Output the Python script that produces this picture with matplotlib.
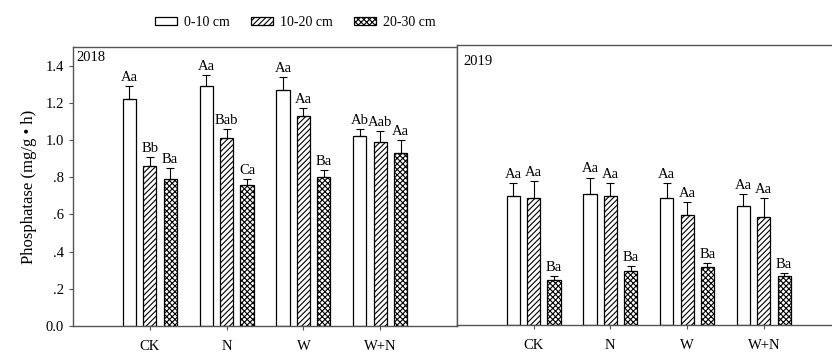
import matplotlib
matplotlib.use("Agg")
import matplotlib.pyplot as plt
import numpy as np
from matplotlib.patches import Patch

plt.rcParams['font.family'] = ['Liberation Serif', 'DejaVu Serif']
plt.rcParams['hatch.linewidth'] = 0.8

treatments = ["CK", "N", "W", "W+N"]
depths = ["0-10 cm", "10-20 cm", "20-30 cm"]
ytick_vals = [0.0, 0.2, 0.4, 0.6, 0.8, 1.0, 1.2, 1.4]
ytick_labels = ["0.0", ".2", ".4", ".6", ".8", "1.0", "1.2", "1.4"]

# 2018 values per depth (rows) and treatment (columns)
mean_2018 = [[1.22, 1.29, 1.27, 1.02],
             [0.86, 1.01, 1.13, 0.99],
             [0.79, 0.76, 0.80, 0.93]]
err_2018 = [[0.07, 0.06, 0.07, 0.04],
            [0.05, 0.05, 0.04, 0.06],
            [0.06, 0.03, 0.04, 0.07]]
lab_2018 = [["Aa", "Aa", "Aa", "Ab"],
            ["Bb", "Bab", "Aa", "Aab"],
            ["Ba", "Ca", "Ba", "Aa"]]

mean_2019 = [[0.69, 0.70, 0.68, 0.64],
             [0.68, 0.69, 0.59, 0.58],
             [0.24, 0.29, 0.31, 0.26]]
err_2019 = [[0.07, 0.09, 0.08, 0.06],
            [0.09, 0.07, 0.07, 0.10],
            [0.02, 0.025, 0.02, 0.02]]
lab_2019 = [["Aa", "Aa", "Aa", "Aa"],
            ["Aa", "Aa", "Aa", "Aa"],
            ["Ba", "Ba", "Ba", "Ba"]]

hatches = ["", "//////", "xxxxxx"]
spine_col = "#555555"

fig = plt.figure(figsize=(8.32, 3.56), dpi=100)
ax1 = fig.add_axes([73/832, 30/356, 384/832, 279/356])
ax2 = fig.add_axes([457/832, 31/356, 375/832, 280/356])

x = np.arange(1, len(treatments) + 1)
offs = [-0.265, 0.0, 0.265]
w = 0.172

def draw(ax, means, errs, labs):
    for i in range(3):
        m = np.array(means[i]); e = np.array(errs[i])
        xs = x + offs[i]
        ax.bar(xs, m, width=w, facecolor="white", edgecolor="black",
               linewidth=0.9, hatch=hatches[i], zorder=2)
        ax.errorbar(xs, m, yerr=[np.zeros_like(e), e], fmt="none",
                    ecolor="black", elinewidth=0.8, capsize=3, capthick=0.8, zorder=3)
        for xi, mi, ei, li in zip(xs, m, e, labs[i]):
            ax.annotate(li, (xi, mi + ei), xytext=(0, 1.5), textcoords="offset points",
                        ha="center", va="bottom", fontsize=10.5)
    ax.set_ylim(0, 1.5)
    ax.set_xticks(x)
    ax.set_xticklabels(treatments, fontsize=10.5)
    ax.tick_params(axis="x", length=3, width=0.8, pad=7, color=spine_col)
    for s in ax.spines.values():
        s.set_color(spine_col)
        s.set_linewidth(1.0)

draw(ax1, mean_2018, err_2018, lab_2018)
draw(ax2, mean_2019, err_2019, lab_2019)

ax1.set_xlim(0, 5)
ax1.set_yticks(ytick_vals)
ax1.set_yticklabels(ytick_labels, fontsize=10.5)
ax1.tick_params(axis="y", length=3, width=0.8, color=spine_col)
ax1.set_ylabel("Phosphatase (mg/g \u2022 h)", fontsize=12, labelpad=6)
ax1.text(0.008, 0.985, "2018", transform=ax1.transAxes, ha="left", va="top", fontsize=10.5)

ax2.set_xlim(0, 375/76.7)
ax2.set_yticks([])
ax2.spines["right"].set_visible(False)
ax2.text(0.017, 0.965, "2019", transform=ax2.transAxes, ha="left", va="top", fontsize=10.5)

handles = [Patch(facecolor="white", edgecolor="black", linewidth=0.9, hatch=h) for h in hatches]
fig.legend(handles, depths, loc="center", bbox_to_anchor=(0.355, 0.938), ncol=3,
           frameon=False, fontsize=10, handlelength=1.6, handleheight=0.5,
           columnspacing=1.5, handletextpad=0.5)

fig.savefig("out.png", dpi=100)
